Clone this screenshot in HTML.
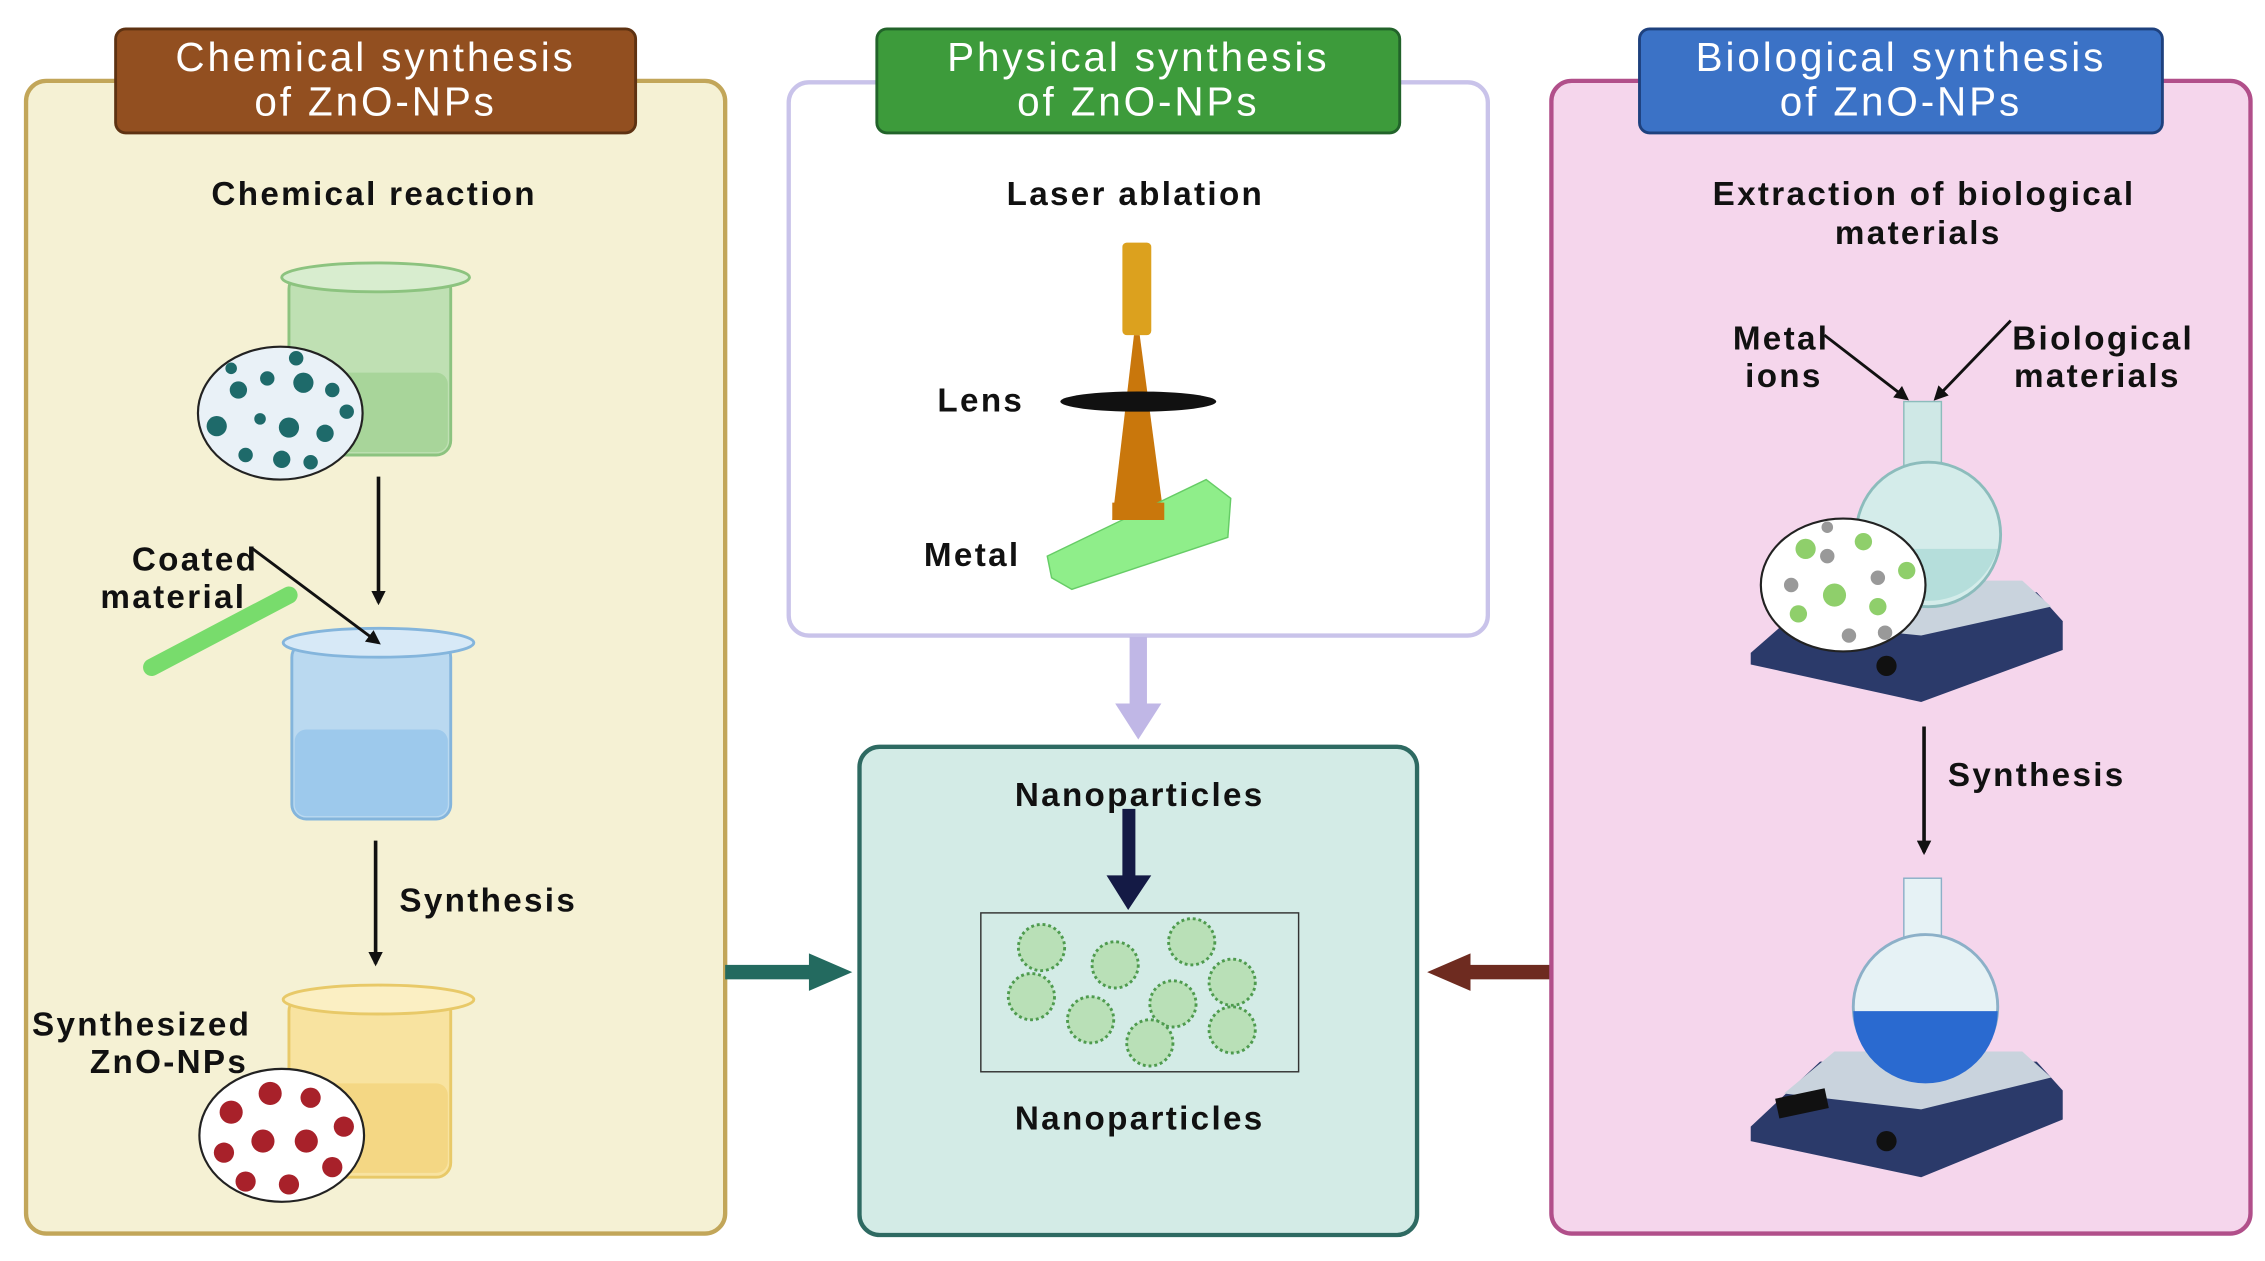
<!DOCTYPE html>
<html><head><meta charset="utf-8"><style>
html,body{margin:0;padding:0;background:#fff}
svg{display:block}
text{font-family:"Liberation Sans",sans-serif}
.h{fill:#fff;font-size:28px;text-anchor:middle;letter-spacing:2px}
.b{fill:#111;font-size:23px;font-weight:bold;text-anchor:middle;letter-spacing:1.6px}
</style></head><body>
<svg width="2265" height="1261" viewBox="0 0 1568 873" xmlns="http://www.w3.org/2000/svg">
<defs>
<marker id="ak" markerWidth="10" markerHeight="10" refX="8" refY="5" orient="auto" markerUnits="userSpaceOnUse"><path d="M0,0 L10,5 L0,10 z" fill="#111"/></marker>
</defs>
<rect width="1568" height="873" fill="#fff"/>
<!-- left panel -->
<rect x="18" y="56" width="484" height="798" rx="14" fill="#f5f1d4" stroke="#c2a659" stroke-width="3"/>
<rect x="80" y="20" width="360" height="72" rx="7" fill="#924f20" stroke="#5e3212" stroke-width="2"/>
<text class="h" x="260" y="49">Chemical synthesis</text>
<text class="h" x="260" y="80">of ZnO-NPs</text>
<text class="b" x="259" y="142">Chemical reaction</text>
<!-- green beaker -->
<rect x="200" y="190" width="112" height="125" rx="10" fill="#bfe0b3" stroke="#8cc37f" stroke-width="2"/>
<ellipse cx="260" cy="192" rx="65" ry="10" fill="#d8edcf" stroke="#8cc37f" stroke-width="2"/>
<rect x="202" y="258" width="108" height="55" rx="8" fill="#a8d59a"/>
<ellipse cx="194" cy="286" rx="57" ry="46" fill="#e9f1f7" stroke="#222" stroke-width="1.5"/>
<g fill="#1e6a6a"><circle cx="165" cy="270" r="6"/><circle cx="185" cy="262" r="5"/><circle cx="210" cy="265" r="7"/><circle cx="230" cy="270" r="5"/><circle cx="150" cy="295" r="7"/><circle cx="180" cy="290" r="4"/><circle cx="200" cy="296" r="7"/><circle cx="225" cy="300" r="6"/><circle cx="240" cy="285" r="5"/><circle cx="170" cy="315" r="5"/><circle cx="195" cy="318" r="6"/><circle cx="215" cy="320" r="5"/><circle cx="160" cy="255" r="4"/><circle cx="205" cy="248" r="5"/></g>
<line x1="262" y1="330" x2="262" y2="417" stroke="#111" stroke-width="2.5" marker-end="url(#ak)"/>
<!-- blue beaker -->
<rect x="202" y="445" width="110" height="122" rx="10" fill="#bad9f0" stroke="#84b5dc" stroke-width="2"/>
<ellipse cx="262" cy="445" rx="66" ry="10" fill="#d7e9f7" stroke="#84b5dc" stroke-width="2"/>
<rect x="204" y="505" width="106" height="60" rx="8" fill="#9dc9ec"/>
<line x1="105" y1="462" x2="200" y2="412" stroke="#78dc6c" stroke-width="12" stroke-linecap="round"/>
<line x1="175" y1="380" x2="262" y2="445" stroke="#111" stroke-width="2" marker-end="url(#ak)"/>
<text class="b" x="135" y="395">Coated</text>
<text class="b" x="120" y="421">material</text>
<line x1="260" y1="582" x2="260" y2="667" stroke="#111" stroke-width="2.5" marker-end="url(#ak)"/>
<text class="b" x="338" y="631">Synthesis</text>
<!-- yellow beaker -->
<rect x="200" y="690" width="112" height="125" rx="10" fill="#f8e3a0" stroke="#e8c968" stroke-width="2"/>
<ellipse cx="262" cy="692" rx="66" ry="10" fill="#fbefc3" stroke="#e8c968" stroke-width="2"/>
<rect x="202" y="750" width="108" height="62" rx="8" fill="#f4d784"/>
<ellipse cx="195" cy="786" rx="57" ry="46" fill="#fff" stroke="#222" stroke-width="1.5"/>
<g fill="#a8212a"><circle cx="160" cy="770" r="8"/><circle cx="187" cy="757" r="8"/><circle cx="215" cy="760" r="7"/><circle cx="155" cy="798" r="7"/><circle cx="182" cy="790" r="8"/><circle cx="212" cy="790" r="8"/><circle cx="238" cy="780" r="7"/><circle cx="170" cy="818" r="7"/><circle cx="200" cy="820" r="7"/><circle cx="230" cy="808" r="7"/></g>
<text class="b" x="98" y="717">Synthesized</text>
<text class="b" x="117" y="743">ZnO-NPs</text>
<!-- middle top -->
<rect x="546" y="57" width="484" height="383" rx="14" fill="#fff" stroke="#c9c3ea" stroke-width="3"/>
<rect x="607" y="20" width="362" height="72" rx="7" fill="#3d9b3b" stroke="#22632a" stroke-width="2"/>
<text class="h" x="788" y="49">Physical synthesis</text>
<text class="h" x="788" y="80">of ZnO-NPs</text>
<text class="b" x="786" y="142">Laser ablation</text>
<rect x="777" y="168" width="20" height="64" rx="3" fill="#dca11e"/>
<polygon points="785,232 789,232 806,360 770,360" fill="#c9770c"/>
<ellipse cx="788" cy="278" rx="54" ry="7" fill="#111"/>
<polygon points="725,385 835,332 852,345 850,372 742,408 728,400" fill="#8fee8a" stroke="#66cc66"/>
<polygon points="770,360 806,360 806,348 770,348" fill="#c9770c"/>
<text class="b" x="679" y="285">Lens</text>
<text class="b" x="673" y="392">Metal</text>
<!-- lavender arrow -->
<rect x="782" y="441" width="12" height="48" fill="#c0b7e6"/>
<polygon points="772,487 804,487 788,512" fill="#c0b7e6"/>
<!-- middle bottom -->
<rect x="595" y="517" width="386" height="338" rx="14" fill="#d3ebe6" stroke="#2e6a62" stroke-width="3"/>
<text class="b" x="789" y="558">Nanoparticles</text>
<rect x="679" y="632" width="220" height="110" fill="#d3ebe6" stroke="#333" stroke-width="1"/>
<rect x="777" y="560" width="9" height="50" fill="#141a45"/>
<polygon points="766,606 797,606 781,630" fill="#141a45"/>
<g fill="#b9e0b7" stroke="#4e9b4e" stroke-width="2" stroke-dasharray="2 2"><circle cx="721" cy="656" r="16"/><circle cx="772" cy="668" r="16"/><circle cx="825" cy="652" r="16"/><circle cx="853" cy="680" r="16"/><circle cx="714" cy="690" r="16"/><circle cx="755" cy="706" r="16"/><circle cx="812" cy="695" r="16"/><circle cx="853" cy="713" r="16"/><circle cx="796" cy="722" r="16"/></g>
<text class="b" x="789" y="782">Nanoparticles</text>
<!-- side arrows -->
<rect x="502" y="668" width="62" height="10" fill="#236a5f"/>
<polygon points="560,660 590,673 560,686" fill="#236a5f"/>
<rect x="1015" y="668" width="60" height="10" fill="#6e2b20"/>
<polygon points="1018,660 988,673 1018,686" fill="#6e2b20"/>
<!-- right panel -->
<rect x="1074" y="56" width="484" height="798" rx="14" fill="#f5d6ec" stroke="#b14f8a" stroke-width="3"/>
<rect x="1135" y="20" width="362" height="72" rx="7" fill="#3b72c6" stroke="#1e417e" stroke-width="2"/>
<text class="h" x="1316" y="49">Biological synthesis</text>
<text class="h" x="1316" y="80">of ZnO-NPs</text>
<text class="b" x="1332" y="142">Extraction of biological</text>
<text class="b" x="1328" y="169">materials</text>
<text class="b" x="1233" y="242">Metal</text>
<text class="b" x="1235" y="268">ions</text>
<text class="b" x="1456" y="242">Biological</text>
<text class="b" x="1452" y="268">materials</text>
<line x1="1263" y1="232" x2="1320" y2="276" stroke="#111" stroke-width="2" marker-end="url(#ak)"/>
<line x1="1392" y1="222" x2="1340" y2="276" stroke="#111" stroke-width="2" marker-end="url(#ak)"/>
<!-- stirrer 1 -->
<polygon points="1212,452 1260,410 1410,410 1428,430 1428,450 1330,486 1212,460" fill="#2b3a6a"/>
<polygon points="1235,430 1270,402 1400,402 1420,420 1330,440" fill="#c9d3dd"/>
<rect x="1318" y="278" width="26" height="70" fill="#cfe8e6" stroke="#8cbcbc"/>
<circle cx="1335" cy="370" r="50" fill="#d4ecea" stroke="#8cbcbc" stroke-width="2"/>
<path d="M1287,380 A50,50 0 0 0 1383,380 Z" fill="#b5dedb"/>
<ellipse cx="1276" cy="405" rx="57" ry="46" fill="#fff" stroke="#222" stroke-width="1.5"/>
<g fill="#8fcf6b"><circle cx="1250" cy="380" r="7"/><circle cx="1290" cy="375" r="6"/><circle cx="1270" cy="412" r="8"/><circle cx="1245" cy="425" r="6"/><circle cx="1300" cy="420" r="6"/><circle cx="1320" cy="395" r="6"/></g>
<g fill="#999"><circle cx="1265" cy="385" r="5"/><circle cx="1300" cy="400" r="5"/><circle cx="1240" cy="405" r="5"/><circle cx="1280" cy="440" r="5"/><circle cx="1305" cy="438" r="5"/><circle cx="1265" cy="365" r="4"/></g>
<circle cx="1306" cy="461" r="7" fill="#111"/>
<line x1="1332" y1="503" x2="1332" y2="590" stroke="#111" stroke-width="2.5" marker-end="url(#ak)"/>
<text class="b" x="1410" y="544">Synthesis</text>
<!-- stirrer 2 -->
<polygon points="1212,780 1260,735 1410,735 1428,755 1428,775 1330,815 1212,790" fill="#2b3a6a"/>
<polygon points="1235,757 1270,728 1400,728 1420,746 1330,768" fill="#c9d3dd"/>
<rect x="1318" y="608" width="26" height="70" fill="#e6f2f5" stroke="#8cb0c8"/>
<circle cx="1333" cy="697" r="50" fill="#e6f2f5" stroke="#8cb0c8" stroke-width="2"/>
<path d="M1283,700 A50,50 0 0 0 1383,700 Z" fill="#2a6ad0"/>
<rect x="1230" y="757" width="35" height="14" fill="#111" transform="rotate(-12 1247 764)"/>
<circle cx="1306" cy="790" r="7" fill="#111"/>
</svg>
</body></html>
